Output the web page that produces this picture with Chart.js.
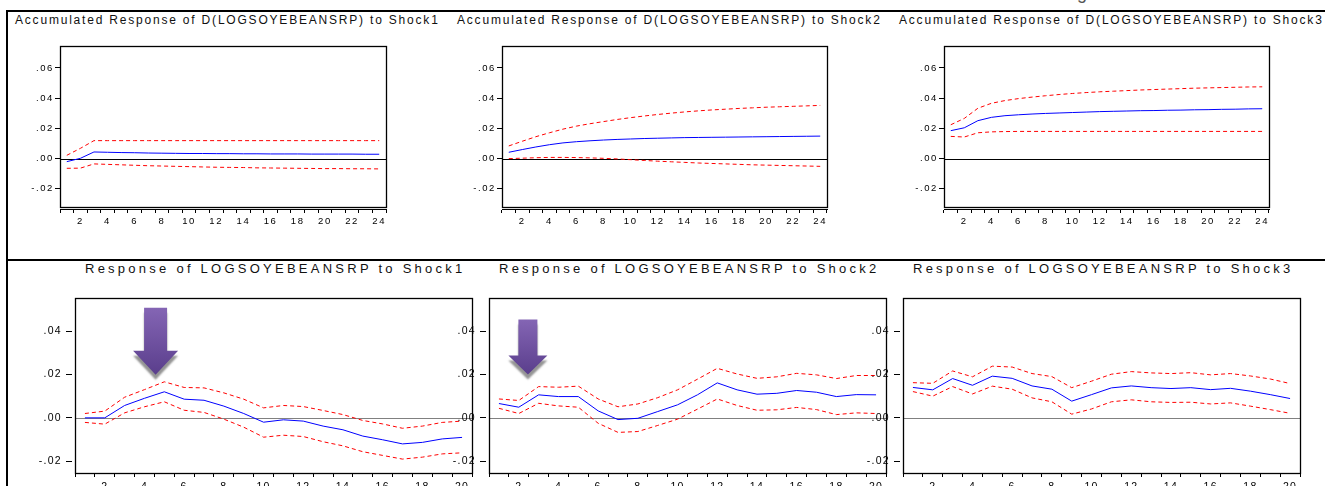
<!DOCTYPE html>
<html>
<head>
<meta charset="utf-8">
<script src="https://cdn.jsdelivr.net/npm/chart.js@4.4.1/dist/chart.umd.min.js"></script>
<style>
  html, body { margin: 0; padding: 0; background: #fff; width: 1325px; height: 486px; overflow: hidden; }
  #page { position: relative; width: 1325px; height: 486px; overflow: hidden; }
  canvas { position: absolute; }
  .ttl { position: absolute; white-space: nowrap; font-family: 'Liberation Sans', Arial, sans-serif; color: #111; height: 20px; line-height: 20px; }
  .top { font-size: 12px; letter-spacing: 1.8px; }
  .bot { font-size: 13px; letter-spacing: 3.25px; }
  .rule { position: absolute; background: #000; }
</style>
</head>
<body>
<div id="page">
  <div class="rule" style="left:6px;top:10px;width:2px;height:476px;"></div>
  <div class="rule" style="left:6px;top:10px;width:1319px;height:2px;"></div>
  <div class="rule" style="left:6px;top:259px;width:1319px;height:2px;"></div>
  <div style="position:absolute;left:1077px;top:-16px;font:18px 'Liberation Sans',Arial,sans-serif;color:#555;line-height:18px;">g</div>

  <div class="ttl top" style="left:15px;top:10px;">Accumulated Response of D(LOGSOYEBEANSRP) to Shock1</div>
  <div class="ttl top" style="left:457px;top:10px;">Accumulated Response of D(LOGSOYEBEANSRP) to Shock2</div>
  <div class="ttl top" style="left:899px;top:10px;">Accumulated Response of D(LOGSOYEBEANSRP) to Shock3</div>
  <div class="ttl bot" style="left:85px;top:259px;">Response of LOGSOYEBEANSRP to Shock1</div>
  <div class="ttl bot" style="left:499px;top:259px;">Response of LOGSOYEBEANSRP to Shock2</div>
  <div class="ttl bot" style="left:913px;top:259px;">Response of LOGSOYEBEANSRP to Shock3</div>

  <canvas id="t1"></canvas><canvas id="t2"></canvas><canvas id="t3"></canvas>
  <canvas id="b1"></canvas><canvas id="b2"></canvas><canvas id="b3"></canvas>
</div>
<script>
// ---------- categories / tick labels ----------
const periods24 = [1,2,3,4,5,6,7,8,9,10,11,12,13,14,15,16,17,18,19,20,21,22,23,24];
const periods20 = [1,2,3,4,5,6,7,8,9,10,11,12,13,14,15,16,17,18,19,20];
const shownPeriods24 = [2,4,6,8,10,12,14,16,18,20,22,24];
const shownPeriods20 = [2,4,6,8,10,12,14,16,18,20];
const topYTicks = [-0.02, 0.00, 0.02, 0.04, 0.06];
const botYTicks = [-0.02, 0.00, 0.02, 0.04];
const topYRange = [-0.032, 0.0745];
const botYRange = [-0.0254, 0.0552];

// ---------- accumulated responses (top row) ----------
const acc1Mid = [-0.0020,0.0002,0.0044,0.0042,0.0040,0.0039,0.0037,0.0036,0.0035,0.0034,0.0034,0.0033,0.0033,0.0032,0.0032,0.0031,0.0031,0.0031,0.0030,0.0030,0.0030,0.0030,0.0029,0.0029];
const acc1Up  = [0.0022,0.0068,0.0119,0.0119,0.0119,0.0119,0.0119,0.0119,0.0119,0.0119,0.0119,0.0119,0.0119,0.0119,0.0119,0.0119,0.0119,0.0119,0.0119,0.0119,0.0119,0.0119,0.0119,0.0119];
const acc1Lo  = [-0.0064,-0.0063,-0.0035,-0.0038,-0.0041,-0.0044,-0.0047,-0.0049,-0.0051,-0.0053,-0.0055,-0.0057,-0.0058,-0.0059,-0.0061,-0.0062,-0.0063,-0.0064,-0.0065,-0.0066,-0.0066,-0.0067,-0.0067,-0.0068];

const acc2Mid = [0.0042,0.0060,0.0077,0.0092,0.0104,0.0112,0.0118,0.0123,0.0127,0.0130,0.0133,0.0135,0.0137,0.0139,0.0140,0.0141,0.0142,0.0143,0.0144,0.0145,0.0146,0.0147,0.0148,0.0149];
const acc2Up  = [0.0084,0.0115,0.0145,0.0171,0.0195,0.0215,0.0231,0.0245,0.0259,0.0271,0.0282,0.0292,0.0301,0.0309,0.0316,0.0322,0.0327,0.0332,0.0336,0.0340,0.0343,0.0346,0.0349,0.0352];
const acc2Lo  = [0.0000,0.0003,0.0006,0.0008,0.0008,0.0007,0.0005,0.0002,-0.0002,-0.0007,-0.0012,-0.0017,-0.0021,-0.0025,-0.0029,-0.0032,-0.0035,-0.0038,-0.0041,-0.0043,-0.0045,-0.0047,-0.0049,-0.0051];

const acc3Mid = [0.0185,0.0204,0.0251,0.0273,0.0284,0.0290,0.0295,0.0299,0.0302,0.0305,0.0308,0.0311,0.0313,0.0315,0.0317,0.0318,0.0320,0.0321,0.0323,0.0324,0.0326,0.0327,0.0329,0.0330];
const acc3Up  = [0.0224,0.0266,0.0333,0.0366,0.0384,0.0397,0.0407,0.0416,0.0424,0.0431,0.0437,0.0442,0.0446,0.0450,0.0454,0.0457,0.0460,0.0463,0.0466,0.0468,0.0470,0.0472,0.0474,0.0475];
const acc3Lo  = [0.0147,0.0143,0.0171,0.0177,0.0179,0.0180,0.0180,0.0180,0.0180,0.0180,0.0180,0.0180,0.0180,0.0180,0.0180,0.0180,0.0180,0.0180,0.0180,0.0180,0.0180,0.0180,0.0180,0.0180];

// ---------- responses (bottom row) ----------
const res1Mid = [0.0000,0.0000,0.0057,0.0090,0.0120,0.0086,0.0081,0.0054,0.0020,-0.0020,-0.0009,-0.0015,-0.0038,-0.0055,-0.0084,-0.0101,-0.0120,-0.0113,-0.0097,-0.0090];
const res1Up  = [0.0020,0.0031,0.0095,0.0130,0.0166,0.0140,0.0138,0.0115,0.0086,0.0046,0.0057,0.0052,0.0034,0.0015,-0.0012,-0.0028,-0.0048,-0.0038,-0.0021,-0.0015];
const res1Lo  = [-0.0021,-0.0029,0.0023,0.0051,0.0074,0.0035,0.0025,-0.0006,-0.0043,-0.0089,-0.0080,-0.0086,-0.0110,-0.0129,-0.0156,-0.0173,-0.0190,-0.0181,-0.0166,-0.0161];

const res2Mid = [0.0066,0.0049,0.0106,0.0098,0.0098,0.0032,-0.0008,-0.0002,0.0029,0.0060,0.0106,0.0161,0.0129,0.0109,0.0113,0.0126,0.0118,0.0098,0.0107,0.0106];
const res2Up  = [0.0087,0.0080,0.0144,0.0141,0.0146,0.0087,0.0051,0.0064,0.0093,0.0129,0.0178,0.0228,0.0202,0.0182,0.0189,0.0205,0.0198,0.0181,0.0195,0.0195];
const res2Lo  = [0.0044,0.0020,0.0067,0.0055,0.0049,-0.0025,-0.0067,-0.0063,-0.0035,-0.0006,0.0040,0.0087,0.0057,0.0035,0.0037,0.0048,0.0038,0.0015,0.0023,0.0020];

const res3Mid = [0.0140,0.0129,0.0181,0.0150,0.0192,0.0182,0.0147,0.0132,0.0077,0.0107,0.0138,0.0147,0.0139,0.0135,0.0139,0.0130,0.0136,0.0123,0.0107,0.0089];
const res3Up  = [0.0162,0.0159,0.0216,0.0189,0.0238,0.0234,0.0204,0.0190,0.0139,0.0169,0.0201,0.0213,0.0207,0.0204,0.0208,0.0198,0.0204,0.0193,0.0179,0.0158];
const res3Lo  = [0.0121,0.0100,0.0144,0.0110,0.0146,0.0132,0.0092,0.0074,0.0017,0.0041,0.0074,0.0083,0.0074,0.0071,0.0072,0.0064,0.0069,0.0054,0.0038,0.0021];

// arrow annotations (category index, value of tip)
const arrowB1 = { x: 3.56, y: 0.0198, shaftW: 23, headW: 45, totalH: 67, headH: 24 };
const arrowB2 = { x: 1.46, y: 0.0200, shaftW: 19, headW: 39, totalH: 55, headH: 19 };

// ---------- helpers ----------
const FONT = "'Liberation Sans', Arial, sans-serif";
function fmtY(v) {
  const s = Math.abs(v).toFixed(2).slice(1);
  return (v < -1e-9 ? '-' : '') + s;
}

function drawArrow(ctx, tx, ty, a) {
  const top = ty - a.totalH, headTop = ty - a.headH;
  ctx.save();
  const g = ctx.createLinearGradient(0, top, 0, ty);
  g.addColorStop(0, '#8465b4');
  g.addColorStop(1, '#5a3e8c');
  ctx.shadowColor = 'rgba(60,60,60,0.55)';
  ctx.shadowOffsetX = 0;
  ctx.shadowOffsetY = 5;
  ctx.shadowBlur = 2;
  ctx.fillStyle = g;
  ctx.beginPath();
  ctx.moveTo(tx - a.shaftW / 2, top);
  ctx.lineTo(tx + a.shaftW / 2, top);
  ctx.lineTo(tx + a.shaftW / 2, headTop);
  ctx.lineTo(tx + a.headW / 2, headTop);
  ctx.lineTo(tx, ty);
  ctx.lineTo(tx - a.headW / 2, headTop);
  ctx.lineTo(tx - a.shaftW / 2, headTop);
  ctx.closePath();
  ctx.fill();
  ctx.restore();
}

function build(id, rect, area, o) {
  const cv = document.getElementById(id);
  cv.width = rect.w; cv.height = rect.h;
  cv.style.left = rect.x + 'px'; cv.style.top = rect.y + 'px';
  cv.style.width = rect.w + 'px'; cv.style.height = rect.h + 'px';
  const yw = area.L - rect.x - o.yGap;
  const xh = rect.y + rect.h - area.B - o.xGap;

  const deco = {
    id: 'deco_' + id,
    beforeUpdate(c) { c.ctx.letterSpacing = o.ls; },
    beforeDraw(c) { c.ctx.letterSpacing = o.ls; },
    beforeDatasetsDraw(c) {
      const { ctx, chartArea: ca, scales } = c;
      const y0 = Math.round(scales.y.getPixelForValue(0)) + 0.5;
      ctx.save();
      ctx.strokeStyle = o.zeroColor;
      ctx.lineWidth = 1;
      ctx.beginPath();
      ctx.moveTo(ca.left, y0);
      ctx.lineTo(ca.right + o.zeroExt, y0);
      ctx.stroke();
      ctx.restore();
    },
    afterDraw(c) {
      const { ctx, chartArea: ca, scales } = c;
      ctx.save();
      ctx.strokeStyle = '#000';
      ctx.lineWidth = 1.3;
      ctx.strokeRect(ca.left + 0.5, ca.top + 0.5, ca.right - ca.left, ca.bottom - ca.top);
      ctx.restore();
      if (o.arrow) {
        const tx = scales.x.getPixelForValue(o.arrow.x);
        const ty = scales.y.getPixelForValue(o.arrow.y);
        drawArrow(ctx, tx, ty, o.arrow);
      }
    }
  };

  const ds = (data, color, dash) => ({
    data, borderColor: color, borderWidth: 1, borderDash: dash, pointRadius: 0,
    tension: 0, fill: false
  });

  return new Chart(cv, {
    type: 'line',
    data: {
      labels: o.labels,
      datasets: [ds(o.up, '#ff0000', [4, 3]), ds(o.lo, '#ff0000', [4, 3]), ds(o.mid, '#0000ff', [])]
    },
    options: {
      responsive: false, maintainAspectRatio: false, animation: false, devicePixelRatio: 1,
      layout: { padding: { left: 0, top: area.T - rect.y, right: rect.x + rect.w - area.R, bottom: 0 } },
      plugins: { legend: { display: false }, tooltip: { enabled: false }, title: { display: false } },
      scales: {
        y: {
          type: 'linear', position: 'left', weight: 1, min: o.yRange[0], max: o.yRange[1],
          afterBuildTicks: s => { s.ticks = o.yTicks.map(v => ({ value: v })); },
          afterFit: s => { s.width = yw; },
          ticks: { callback: v => fmtY(v), font: { family: FONT, size: o.tickSize }, color: '#000', padding: o.yPad },
          grid: { display: true, drawOnChartArea: false, drawTicks: true, tickLength: o.yTick, color: '#000', lineWidth: 1 },
          border: { display: false }
        },
        ysp: {
          type: 'linear', position: 'left', weight: 0, display: o.yGap > 0,
          afterFit: s => { s.width = o.yGap; },
          ticks: { display: false }, grid: { display: false }, border: { display: false }
        },
        x: {
          type: 'category', position: 'bottom', weight: 1, offset: true,
          afterFit: s => { s.height = xh; },
          ticks: {
            autoSkip: false, maxRotation: 0, minRotation: 0,
            callback: function (v, i) { const p = o.labels[i]; return o.shown.includes(p) ? String(p) : ''; },
            font: { family: FONT, size: o.tickSize }, color: '#000', padding: o.xPad
          },
          grid: { display: true, offset: true, drawOnChartArea: false, drawTicks: true, tickLength: 4, color: '#000', lineWidth: 1 },
          border: { display: true, color: '#000', width: 1 }
        },
        xsp: {
          type: 'linear', position: 'bottom', weight: 0, display: o.xGap > 0,
          afterFit: s => { s.height = o.xGap; },
          ticks: { display: false }, grid: { display: false }, border: { display: false }
        }
      }
    },
    plugins: [deco]
  });
}

const topCommon = { labels: periods24, shown: shownPeriods24, yTicks: topYTicks, yRange: topYRange,
  yGap: 0, xGap: 2, tickSize: 9.5, ls: '1.6px', yPad: 1, yTick: 5, xPad: 3, zeroColor: '#000', zeroExt: 1 };
const botCommon = { labels: periods20, shown: shownPeriods20, yTicks: botYTicks, yRange: botYRange,
  yGap: 3, xGap: 0, tickSize: 10.5, ls: '1.3px', yPad: 4, yTick: 6, xPad: 4, zeroColor: '#808080', zeroExt: 0 };

build('t1', { x: 0, y: 30, w: 440, h: 225 }, { L: 60, T: 46, R: 386, B: 207 }, Object.assign({}, topCommon, { mid: acc1Mid, up: acc1Up, lo: acc1Lo }));
build('t2', { x: 440, y: 30, w: 440, h: 225 }, { L: 502, T: 46, R: 827, B: 207 }, Object.assign({}, topCommon, { mid: acc2Mid, up: acc2Up, lo: acc2Lo }));
build('t3', { x: 880, y: 30, w: 445, h: 225 }, { L: 944, T: 46, R: 1269, B: 207 }, Object.assign({}, topCommon, { mid: acc3Mid, up: acc3Up, lo: acc3Lo }));

build('b1', { x: 0, y: 280, w: 480, h: 220 }, { L: 75, T: 298, R: 472, B: 473 }, Object.assign({}, botCommon, { mid: res1Mid, up: res1Up, lo: res1Lo, arrow: arrowB1 }));
build('b2', { x: 420, y: 280, w: 480, h: 220 }, { L: 489, T: 298, R: 886, B: 473 }, Object.assign({}, botCommon, { mid: res2Mid, up: res2Up, lo: res2Lo, arrow: arrowB2 }));
build('b3', { x: 835, y: 280, w: 490, h: 220 }, { L: 903, T: 298, R: 1300, B: 473 }, Object.assign({}, botCommon, { mid: res3Mid, up: res3Up, lo: res3Lo }));
</script>
</body>
</html>
